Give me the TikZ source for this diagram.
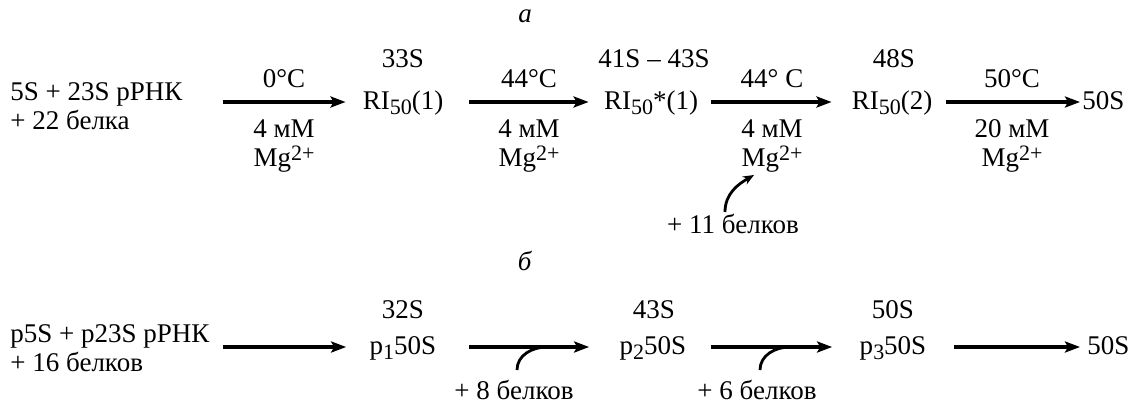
\documentclass[tikz,border=0pt]{standalone}
\usepackage{fontspec}
\setmainfont{Liberation Serif}
\usetikzlibrary{arrows.meta}
\newcommand{\subx}[1]{\raisebox{-2.5pt}{\fontsize{11}{11}\selectfont #1}}
\newcommand{\supx}[1]{\raisebox{3pt}{\fontsize{11}{11}\selectfont #1}}

\begin{document}
\begin{tikzpicture}[
        x=0.5pt, y=-0.5pt,
        font=\fontsize{13.5}{14.5}\selectfont,
        lbl/.style={anchor=base, inner sep=0pt},
        src/.style={anchor=base west, inner sep=0pt, align=left},
        spec/.style={inner sep=0pt, text height=10pt, text depth=3pt},
        cond/.style={anchor=north, inner sep=0pt, align=center},
        reac/.style={draw, line width=2pt, -{Stealth[length=7.5pt, width=5.5pt, inset=1.5pt]}},
        hook/.style={draw, line width=1.4pt}
    ]
    \useasboundingbox (0,0) rectangle (1131,402);

    % scheme a
    \node [lbl] (ta) at (525,22) {\textit{а}};
    \node [src] (sa) at (10,129) {5S + 23S рРНК\\+ 22 белка};
    \node [spec] (ri1) at (403,102) {RI\subx{50}(1)};
    \node [spec] (ri2) at (651,102) {RI\subx{50}*(1)};
    \node [spec] (ri3) at (892,102) {RI\subx{50}(2)};
    \node [spec, anchor=west] (fa) at (1082,102) {50S};
    \node [lbl] (sz1) at (403,67) {33S};
    \node [lbl] (sz2) at (654,67) {41S – 43S};
    \node [lbl] (sz3) at (894,67) {48S};
    \node [lbl] (t1) at (284,87) {0°C};
    \node [lbl] (t2) at (529,87) {44°C};
    \node [lbl] (t3) at (772,87) {44° C};
    \node [lbl] (t4) at (1012,87) {50°C};
    \node [cond] (m1) at (284,119) {4 мМ\\Mg\supx{2+}};
    \node [cond] (m2) at (529,119) {4 мМ\\Mg\supx{2+}};
    \node [cond] (m3) at (772,119) {4 мМ\\Mg\supx{2+}};
    \node [cond] (m4) at (1012,119) {20 мМ\\Mg\supx{2+}};
    \node [lbl] (p11) at (733,233) {+ 11 белков};

    \path [reac, shorten <=20pt, shorten >=8.4pt] (sa.east |- ri1) -- (ri1);
    \path [reac, shorten <=12.9pt, shorten >=7.5pt] (ri1) -- (ri2);
    \path [reac, shorten <=6.5pt, shorten >=9.9pt] (ri2) -- (ri3);
    \path [reac, shorten <=6.9pt, shorten >=1pt] (ri3) -- (fa);
    \coordinate (h11a) at (725,212);
    \coordinate (h11b) at (754,175);
    \path [hook, -{Stealth[length=5.5pt, width=4.5pt]}] (h11a) to[out=90, in=210] (h11b);

    % scheme b
    \node [lbl] (tb) at (525,270) {\textit{б}};
    \node [src] (sb) at (10,371) {p5S + p23S рРНК\\+ 16 белков};
    \node [spec] (p1) at (403,347) {p\subx{1}50S};
    \node [spec] (p2) at (653,347) {p\subx{2}50S};
    \node [spec] (p3) at (893,347) {p\subx{3}50S};
    \node [spec, anchor=west] (fb) at (1087,347) {50S};
    \node [lbl] (sy1) at (403,318) {32S};
    \node [lbl] (sy2) at (654,318) {43S};
    \node [lbl] (sy3) at (893,318) {50S};
    \node [lbl] (p8) at (514,399) {+ 8 белков};
    \node [lbl] (p6) at (757,399) {+ 6 белков};

    \path [reac, shorten <=6.75pt, shorten >=11.6pt] (sb.east |- p1) -- (p1);
    \path [reac, shorten <=16.1pt, shorten >=15.1pt] (p1) -- (p2);
    \path [reac, shorten <=12.1pt, shorten >=13.6pt] (p2) -- (p3);
    \path [reac, shorten <=13.6pt, shorten >=3.5pt] (p3) -- (fb);
    \coordinate (h8a) at (517,370);
    \coordinate (h8b) at (547,347);
    \coordinate (h6a) at (760,370);
    \coordinate (h6b) at (790,347);
    \path [hook] (h8a) to[out=90, in=180] (h8b);
    \path [hook] (h6a) to[out=90, in=180] (h6b);
\end{tikzpicture}
\end{document}
